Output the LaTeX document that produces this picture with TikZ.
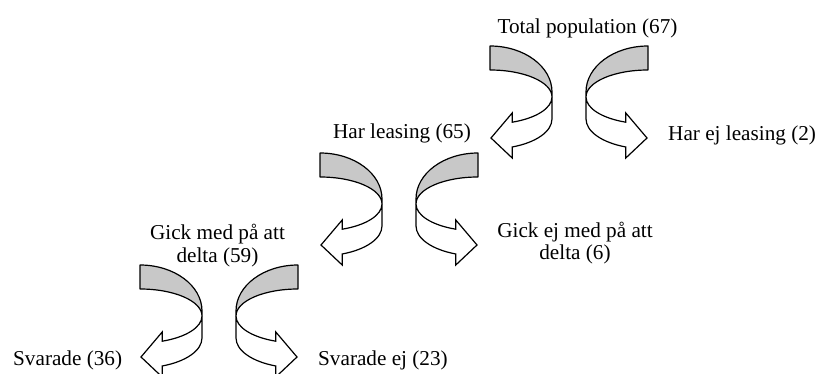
\documentclass[tikz,border=0pt]{standalone}
\usepackage{fontspec}
\setmainfont{Liberation Serif}
\usepackage{tikz}

\definecolor{bandgray}{RGB}{200,200,200}

\tikzset{
    backband/.style={draw, line width=1.2pt, fill=bandgray, line join=round},
    frontband/.style={draw, line width=1.2pt, fill=white, line join=miter},
    label/.style={inner sep=0pt, font=\fontsize{21.2}{22}\selectfont},
    curvearrow/.pic={
        % grey part of the ribbon behind
        \path[backband] (0,51) arc[start angle=90, end angle=0, x radius=62, y radius=46]
            -- (62,0) arc[start angle=0, end angle=90, x radius=62, y radius=27] -- cycle;
        % white part in front, ending in the head
        \path[frontband] (62,0) arc[start angle=0, end angle=-69, x radius=62, y radius=27]
            -- (22.2,-16) -- (1,-41) -- (22.2,-61) -- (22.2,-50)
            arc[start angle=-69, end angle=0, x radius=62, y radius=30] -- cycle;
    }
}

\begin{document}
\begin{tikzpicture}[x=1pt, y=1pt]
    \useasboundingbox (0,0) rectangle (817,-374);

    \pic at (490,-97) {curvearrow};
    \pic[xscale=-1] at (648,-97) {curvearrow};

    \pic at (320,-204) {curvearrow};
    \pic[xscale=-1] at (478,-204) {curvearrow};

    \pic at (140,-316) {curvearrow};
    \pic[xscale=-1] at (298,-316) {curvearrow};

    \node[label, anchor=base] (total) at (587.5,-34) {Total population (67)};

    \node[label, anchor=base] (leasing) at (402,-139) {Har leasing (65)};
    \node[label, anchor=base west] (noleasing) at (668,-141) {Har ej leasing (2)};

    \node[label, anchor=base, align=center] (delta) at (217.5,-262) {Gick med på att\\delta (59)};
    \node[label, anchor=base, align=center] (nodelta) at (575,-260) {Gick ej med på att\\delta (6)};

    \node[label, anchor=base west] (answered) at (13,-365) {Svarade (36)};
    \node[label, anchor=base west] (noanswer) at (318,-365) {Svarade ej (23)};
\end{tikzpicture}
\end{document}
